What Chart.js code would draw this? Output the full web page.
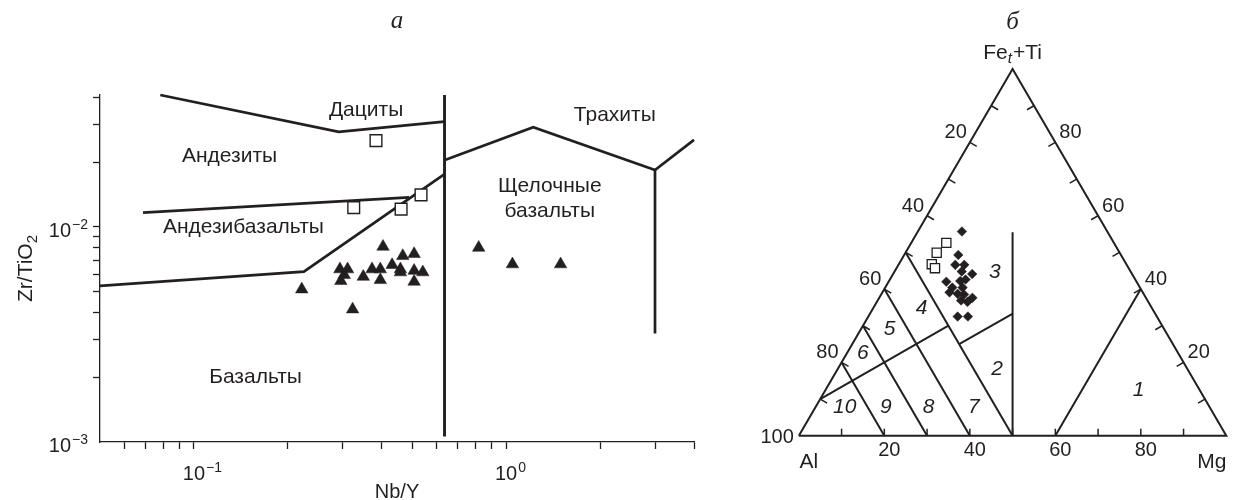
<!DOCTYPE html>
<html>
<head>
<meta charset="utf-8">
<script src="https://cdn.jsdelivr.net/npm/chart.js@4/dist/chart.umd.min.js"></script>
<style>
  html, body { margin: 0; padding: 0; background: #fff; }
  #wrap { position: relative; width: 1238px; height: 500px; }
  #left { position: absolute; left: 0; top: 0; }
  #right { position: absolute; left: 740px; top: 0; }
</style>
</head>
<body>
<div id="wrap">
  <canvas id="left" width="740" height="500"></canvas>
  <canvas id="right" width="498" height="500"></canvas>
</div>
<script>
"use strict";

const ink = '#231f20';
const sans = '"Liberation Sans", Arial, sans-serif';

// ---------- panel а : Nb/Y vs Zr/TiO2 ----------
const nbyTicks = [0.06, 0.07, 0.08, 0.09, 0.1, 0.2, 0.3, 0.4, 0.5, 0.6, 0.7, 0.8, 0.9, 1, 2, 3, 4];
const zrTiTicks = [0.002, 0.003, 0.004, 0.005, 0.006, 0.007, 0.008, 0.009, 0.01, 0.02, 0.03, 0.04];
const nbyPowers = [0.1, 1];
const nbyExponents = ['\u22121', '0'];
const zrTiPowers = [0.001, 0.01];
const zrTiExponents = ['\u22123', '\u22122'];

// samples
const sqNbY  = [0.383, 0.325, 0.461, 0.534];
const sqZrTi = [0.0252, 0.0123, 0.0121, 0.0141];
const triNbY  = [0.2215, 0.2935, 0.3106, 0.303, 0.2955, 0.3223, 0.3487, 0.372, 0.3954, 0.3954, 0.4313,
                 0.4586, 0.4667, 0.4586, 0.5074, 0.5074, 0.5074, 0.541, 0.4034, 0.817, 1.048, 1.495];
const triZrTi = [0.00513, 0.00636, 0.00636, 0.00598, 0.00561, 0.00414, 0.00587, 0.00636, 0.00636, 0.00567, 0.00666,
                 0.00636, 0.00733, 0.00616, 0.00749, 0.00626, 0.00557, 0.00616, 0.0081, 0.00801, 0.00671, 0.00671];

// field boundaries
const daciteX = [0.078, 0.291, 0.634],  daciteY = [0.0411, 0.0277, 0.0309];
const andesiteX = [0.0687, 0.489],      andesiteY = [0.01166, 0.01374];
const basaltX = [0.05, 0.225, 0.635],   basaltY = [0.00532, 0.0062, 0.0176];
const trachyteX = [0.637, 1.222, 3.0, 4.0], trachyteY = [0.0205, 0.0291, 0.0184, 0.0254];
const divideX = [0.635, 0.635],         divideY = [0.0411, 0.00106];
const alkaliX = [3.0, 3.0],             alkaliY = [0.0184, 0.0032];

const fieldNames = ['Дациты', 'Андезиты', 'Андезибазальты', 'Базальты', 'Трахиты', 'Щелочные', 'базальты'];
const fieldNbY  = [0.356, 0.13, 0.144, 0.1575, 2.23, 1.38, 1.38];
const fieldZrTi = [0.035, 0.0214, 0.01, 0.002, 0.0332, 0.0155, 0.01187];

// ---------- panel б : Jensen cation plot (Al, Fet+Ti, Mg) ----------
const ternTicks = [10, 20, 30, 40, 50, 60, 70, 80, 90];
const alSideLabels = [20, 40, 60, 80];
const feSideLabels = [80, 60, 40, 20];
const mgBaseLabels = [20, 40, 60, 80];

// [Al, Fe+Ti, Mg]
const tOutline = [[100, 0, 0], [0, 100, 0], [0, 0, 100], [100, 0, 0]];
const tAl50 = [[50, 50, 0], [50, 0, 50]];
const tAl60 = [[60, 40, 0], [60, 0, 40]];
const tAl70 = [[70, 30, 0], [70, 0, 30]];
const tAl80 = [[80, 20, 0], [80, 0, 20]];
const tLower = [[90, 10, 0], [50, 30, 20]];
const tUpper = [[50, 25, 25], [33.3, 33.3, 33.4]];
const tVertical = [[50, 0, 50], [22.25, 55.5, 22.25]];
const tMg60 = [[40, 0, 60], [0, 40, 60]];

const tSqAl = [39.2, 42.8, 45.5, 45.3];
const tSqFe = [52.6, 49.9, 46.8, 45.7];
const tSqMg = [8.2, 7.3, 7.7, 9.0];

const tDiFe = [55.7, 49.3, 46.6, 46.6, 44.8, 44.1, 42.0, 42.2, 42.6, 40.4, 40.4, 39.1, 38.7, 38.5, 37.6, 36.9, 36.5, 32.5, 32.5];
const tDiMg = [10.3, 12.65, 13.3, 15.4, 15.7, 18.5, 13.5, 16.65, 17.7, 15.7, 18.1, 15.7, 17.8, 19.4, 21.8, 19.5, 21.2, 20.9, 23.3];
const tDiAl = tDiFe.map((fe, i) => +(100 - fe - tDiMg[i]).toFixed(2));

const fieldNums  = ['1', '2', '3', '4', '5', '6', '7', '8', '9', '10'];
const fieldNumAl = [14.4, 44.6, 31.9, 53.9, 64.2, 73.8, 55.1, 65.8, 75.8, 85.4];
const fieldNumFe = [12.3, 18.1, 44.5, 34.8, 29.1, 22.5, 7.9, 7.7, 7.7, 7.7];
const fieldNumMg = [73.3, 37.3, 23.6, 11.3, 6.7, 3.7, 37.0, 26.5, 16.5, 6.9];

// ---------- helpers ----------
function pts(xs, ys) { return xs.map((x, i) => ({ x: x, y: ys[i] })); }

function tern(al, fe, mg) {
    const s = al + fe + mg;
    return { x: (mg + fe / 2) / s * 100, y: fe / s * 100 * Math.sqrt(3) / 2 };
}
function ternList(list) { return list.map(p => tern(p[0], p[1], p[2])); }

function lineSet(data, width) {
    return { data: data, showLine: true, borderColor: ink, borderWidth: width, pointRadius: 0, fill: false, clip: false };
}

function drawPower(ctx, exp, x, baseY, align) {
    const big = '20px ' + sans, small = '14px ' + sans;
    ctx.font = big; const wBase = ctx.measureText('10').width;
    ctx.font = small; const wExp = ctx.measureText(exp).width;
    const x0 = align === 'right' ? x - wBase - wExp - 1 : x - wBase / 2;
    ctx.textAlign = 'left';
    ctx.textBaseline = 'alphabetic';
    ctx.font = big; ctx.fillText('10', x0, baseY);
    ctx.font = small; ctx.fillText(exp, x0 + wBase + 1, baseY - 8);
}

// ---------- panel а text ----------
const panelAText = {
    id: 'panelAText',
    afterDraw(chart) {
        const ctx = chart.ctx, xs = chart.scales.x, ys = chart.scales.y, area = chart.chartArea;
        ctx.save();
        ctx.fillStyle = ink;
        zrTiPowers.forEach((v, i) => drawPower(ctx, zrTiExponents[i], 88, ys.getPixelForValue(v) + 10, 'right'));
        nbyPowers.forEach((v, i) => drawPower(ctx, nbyExponents[i], xs.getPixelForValue(v), 480, 'center'));

        ctx.font = '20px ' + sans;
        ctx.textAlign = 'center';
        ctx.textBaseline = 'alphabetic';
        ctx.fillText('Nb/Y', (area.left + area.right) / 2, 498);

        // y title with subscript
        ctx.save();
        ctx.translate(32, (area.top + area.bottom) / 2);
        ctx.rotate(-Math.PI / 2);
        const main = 'Zr/TiO';
        ctx.font = '21px ' + sans; const wm = ctx.measureText(main).width;
        ctx.font = '15px ' + sans; const ws = ctx.measureText('2').width;
        ctx.textAlign = 'left';
        ctx.font = '21px ' + sans; ctx.fillText(main, -(wm + ws) / 2, 0);
        ctx.font = '15px ' + sans; ctx.fillText('2', -(wm + ws) / 2 + wm, 5);
        ctx.restore();

        ctx.font = 'italic 25px "Liberation Serif", serif';
        ctx.textAlign = 'center';
        ctx.fillText('а', (area.left + area.right) / 2, 28);

        ctx.font = '21px ' + sans;
        ctx.textBaseline = 'middle';
        fieldNames.forEach((t, i) => {
            ctx.fillText(t, xs.getPixelForValue(fieldNbY[i]), ys.getPixelForValue(fieldZrTi[i]));
        });
        ctx.restore();
    }
};

const logAxis = (min, max, tickList, fit) => ({
    type: 'logarithmic', min: min, max: max,
    afterBuildTicks: s => { s.ticks = tickList.map(v => ({ value: v })); },
    afterFit: fit,
    ticks: { callback: () => '', autoSkip: false },
    grid: { drawOnChartArea: false, drawTicks: true, tickLength: 7, tickColor: ink, tickWidth: 1.3, color: ink },
    border: { display: true, color: ink, width: 1.3 }
});

new Chart(document.getElementById('left'), {
    type: 'scatter',
    data: {
        datasets: [
            { data: pts(triNbY, triZrTi), pointStyle: 'triangle', pointRadius: 7.2, backgroundColor: ink, borderColor: ink, borderWidth: 0.5, clip: false },
            { data: pts(sqNbY, sqZrTi), pointStyle: 'rect', pointRadius: 8.3, backgroundColor: '#fff', borderColor: ink, borderWidth: 1.4, clip: false },
            lineSet(pts(daciteX, daciteY), 2.7),
            lineSet(pts(andesiteX, andesiteY), 2.7),
            lineSet(pts(basaltX, basaltY), 2.7),
            lineSet(pts(trachyteX, trachyteY), 2.7),
            lineSet(pts(divideX, divideY), 2.9),
            lineSet(pts(alkaliX, alkaliY), 2.7)
        ]
    },
    options: {
        responsive: false, animation: false, devicePixelRatio: 1, events: [],
        layout: { padding: { top: 95, right: 46, left: 0, bottom: 0 } },
        plugins: { legend: { display: false }, tooltip: { enabled: false } },
        scales: {
            x: logAxis(0.05, 4, nbyTicks, s => { s.height = 58; }),
            y: logAxis(0.001, 0.0411, zrTiTicks, s => { s.width = 100; })
        }
    },
    plugins: [panelAText]
});

// ---------- panel б text and ticks ----------
const panelBText = {
    id: 'panelBText',
    afterDraw(chart) {
        const ctx = chart.ctx, xs = chart.scales.x, ys = chart.scales.y;
        const px = p => ({ x: xs.getPixelForValue(p.x), y: ys.getPixelForValue(p.y) });
        ctx.save();
        ctx.strokeStyle = ink;
        ctx.fillStyle = ink;
        ctx.lineWidth = 1.5;
        const tick = (p, dx, dy, len) => {
            ctx.beginPath(); ctx.moveTo(p.x, p.y); ctx.lineTo(p.x + dx * len, p.y + dy * len); ctx.stroke();
        };
        ternTicks.forEach(v => {
            tick(px(tern(v, 100 - v, 0)), 0.866, 0.5, 8);
            tick(px(tern(0, v, 100 - v)), -0.866, 0.5, 8);
            tick(px(tern(100 - v, 0, v)), 0, -1, 7);
        });

        ctx.font = '20px ' + sans;
        ctx.textBaseline = 'middle';
        ctx.textAlign = 'right';
        alSideLabels.forEach(v => {
            const p = px(tern(v, 100 - v, 0));
            ctx.fillText(String(v), p.x - 3, p.y - 9.5);
        });
        const al = px(tern(100, 0, 0));
        ctx.fillText('100', al.x - 5, al.y + 1.5);
        ctx.textAlign = 'left';
        feSideLabels.forEach(v => {
            const p = px(tern(0, v, 100 - v));
            ctx.fillText(String(v), p.x + 4, p.y - 9.5);
        });
        ctx.textAlign = 'center';
        mgBaseLabels.forEach(v => {
            const p = px(tern(100 - v, 0, v));
            ctx.fillText(String(v), p.x + 5, p.y + 15);
        });

        ctx.font = '21px ' + sans;
        ctx.textAlign = 'center';
        ctx.fillText('Al', al.x + 10, al.y + 26.5);
        const mg = px(tern(0, 0, 100));
        ctx.textAlign = 'right';
        ctx.fillText('Mg', mg.x, mg.y + 26.5);

        // apex label Fe(t)+Ti
        const fe = px(tern(0, 100, 0));
        ctx.textBaseline = 'alphabetic';
        ctx.textAlign = 'left';
        const f20 = '21px ' + sans, fi = 'italic 15px ' + sans;
        ctx.font = f20; const w1 = ctx.measureText('Fe').width, w3 = ctx.measureText('+Ti').width;
        ctx.font = fi; const w2 = ctx.measureText('t').width + 1;
        let x0 = fe.x - (w1 + w2 + w3) / 2;
        const by = fe.y - 10;
        ctx.font = f20; ctx.fillText('Fe', x0, by);
        ctx.font = fi; ctx.fillText('t', x0 + w1, by + 4);
        ctx.font = f20; ctx.fillText('+Ti', x0 + w1 + w2, by);

        ctx.font = 'italic 25px "Liberation Serif", serif';
        ctx.textAlign = 'center';
        ctx.fillText('б', fe.x, 29);

        ctx.font = 'italic 21px ' + sans;
        ctx.textBaseline = 'middle';
        fieldNums.forEach((t, i) => {
            const p = px(tern(fieldNumAl[i], fieldNumFe[i], fieldNumMg[i]));
            ctx.fillText(t, p.x, p.y);
        });
        ctx.restore();
    }
};

new Chart(document.getElementById('right'), {
    type: 'scatter',
    data: {
        datasets: [
            { data: tDiAl.map((a, i) => tern(a, tDiFe[i], tDiMg[i])), pointStyle: 'rectRot', pointRadius: 4.8,
              backgroundColor: ink, borderColor: ink, borderWidth: 0.5, clip: false },
            { data: tSqAl.map((a, i) => tern(a, tSqFe[i], tSqMg[i])), pointStyle: 'rect', pointRadius: 6.5,
              backgroundColor: '#fff', borderColor: ink, borderWidth: 1.3, clip: false },
            lineSet(ternList(tOutline), 2),
            lineSet(ternList(tAl50), 2),
            lineSet(ternList(tAl60), 2),
            lineSet(ternList(tAl70), 2),
            lineSet(ternList(tAl80), 2),
            lineSet(ternList(tLower), 2),
            lineSet(ternList(tUpper), 2),
            lineSet(ternList(tVertical), 2),
            lineSet(ternList(tMg60), 2)
        ]
    },
    options: {
        responsive: false, animation: false, devicePixelRatio: 1, events: [],
        layout: { padding: 0 },
        plugins: { legend: { display: false }, tooltip: { enabled: false } },
        scales: {
            x: { type: 'linear', display: false, min: -11.94, max: 100.91 },
            y: { type: 'linear', display: false, min: -13.34, max: 101.08 }
        }
    },
    plugins: [panelBText]
});
</script>
</body>
</html>
